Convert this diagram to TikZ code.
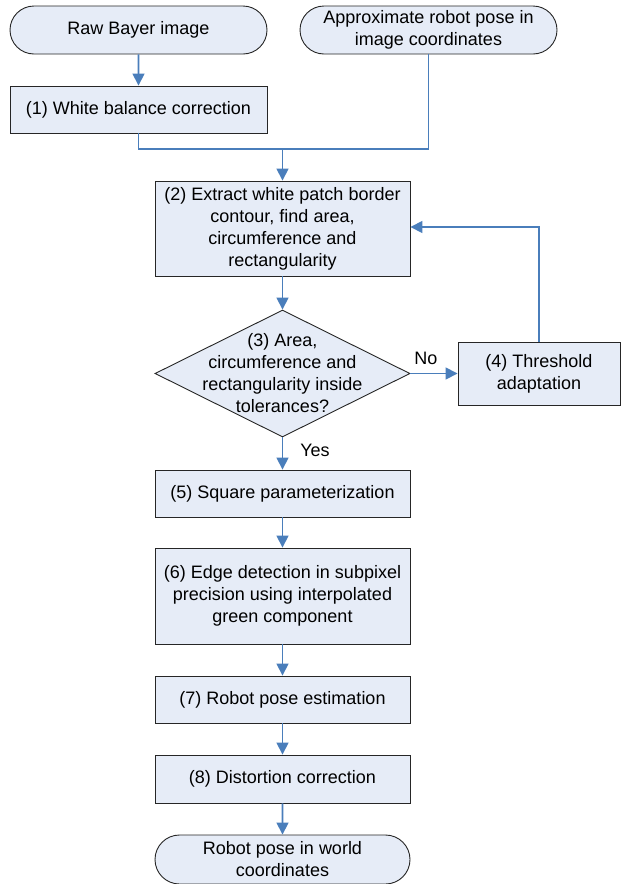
\documentclass[tikz,border=0pt]{standalone}
\usepackage{fontspec}
\setmainfont{Liberation Sans}
\usetikzlibrary{shapes.geometric,shapes.misc,arrows.meta}
\definecolor{boxfill}{RGB}{230,236,247}
\definecolor{linkblue}{RGB}{74,126,187}
\begin{document}
\begin{tikzpicture}[x = 1pt, y = -1pt,
		every node/.style = {font = \fontsize{18}{22}\selectfont},
		terminal/.style = {rounded rectangle, draw = black!85, fill = boxfill, line width = 0.9pt, align = center, inner sep = 0pt},
		process/.style = {rectangle, draw = black!85, fill = boxfill, line width = 0.9pt, align = center, inner sep = 0pt},
		decision/.style = {diamond, draw = black!85, fill = boxfill, line width = 0.9pt, inner sep = 0pt, minimum width = 255pt, minimum height = 127pt},
		link/.style = {draw = linkblue, line width = 1.6pt},
		flow/.style = {link, -{Triangle[length = 12pt, width = 12pt]}}]
		\useasboundingbox (0, 0) rectangle (622, 884);
		%%%%%%%%%
		\node[terminal, minimum width = 257pt, minimum height = 48pt] (raw) at (138.5, 30) {Raw Bayer image};
		\node[terminal, minimum width = 257pt, minimum height = 48pt] (approx) at (428.5, 30) {Approximate robot pose in\\image coordinates};
		\node[process, minimum width = 257pt, minimum height = 47pt] (wb) at (138.5, 109.5) {(1) White balance correction};
		\coordinate (merge) at (282.5, 149);
		%%%%%%%%%
		\node[process, minimum width = 255pt, minimum height = 95pt] (extract) at (282.5, 228.5) {(2) Extract white patch border\\contour, find area,\\circumference and\\rectangularity};
		\node[decision] (check) at (282.5, 373.5) {};
		\node[align = center, inner sep = 0pt] (checktext) at (check.center) {(3) Area,\\circumference and\\rectangularity inside\\tolerances?};
		\node[process, minimum width = 162pt, minimum height = 63pt] (thresh) at (539, 373.5) {(4) Threshold\\adaptation};
		\node (no) at (426, 358) {No};
		\node (yes) at (315, 450) {Yes};
		%%%%%%%%%
		\node[process, minimum width = 255pt, minimum height = 47pt] (square) at (282.5, 493.5) {(5) Square parameterization};
		\node[process, minimum width = 255pt, minimum height = 96pt] (edge) at (282.5, 596) {(6) Edge detection in subpixel\\precision using interpolated\\green component};
		\node[process, minimum width = 255pt, minimum height = 47pt] (pose) at (282.5, 699.5) {(7) Robot pose estimation};
		\node[process, minimum width = 255pt, minimum height = 48pt] (distort) at (282.5, 779) {(8) Distortion correction};
		\node[terminal, minimum width = 255pt, minimum height = 49pt] (world) at (282.5, 859.5) {Robot pose in world\\coordinates};
		%%%%%%%%%
		\draw[flow] (raw) -- (wb);
		\draw[link] (wb.south) |- (merge);
		\draw[link] (approx.south) |- (merge);
		\draw[flow] (merge) -- (extract.north);
		\draw[flow] (extract) -- (check);
		\draw[flow] (check.east) -- (thresh.west);
		\draw[flow] (thresh.north) |- ([yshift = 1.5pt]extract.east);
		\draw[flow] (check.south) -- (square.north);
		\draw[flow] (square) -- (edge);
		\draw[flow] (edge) -- (pose);
		\draw[flow] (pose) -- (distort);
		\draw[flow] (distort) -- (world);
	\end{tikzpicture}
\end{document}
